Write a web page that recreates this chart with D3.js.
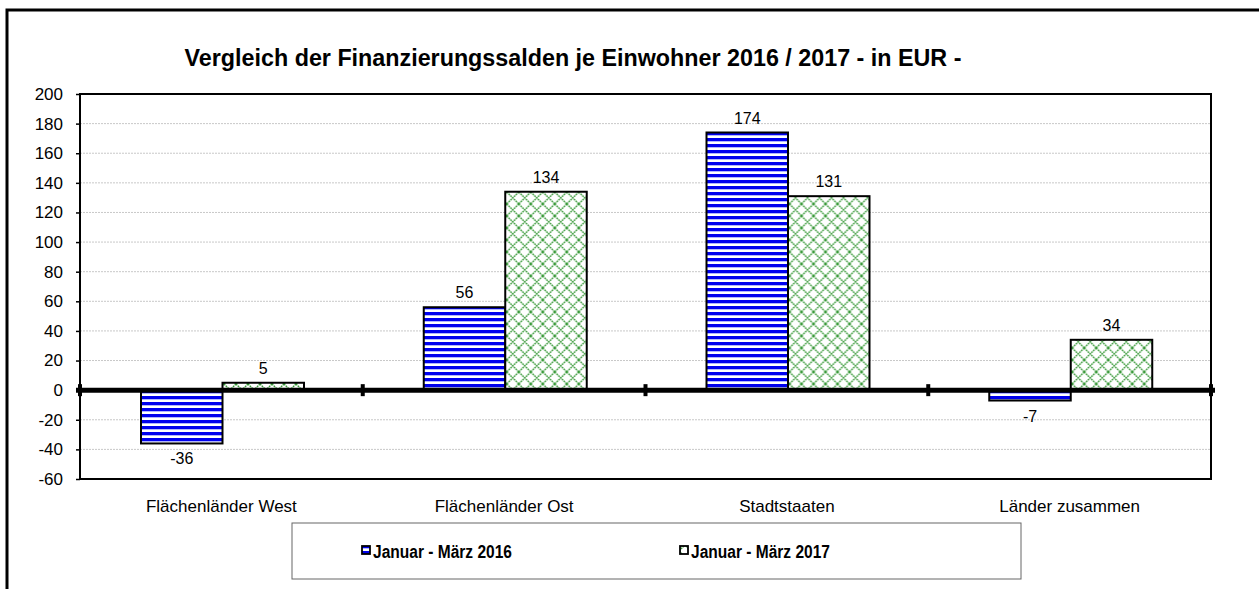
<!DOCTYPE html>
<html><head><meta charset="utf-8">
<script src="https://cdn.jsdelivr.net/npm/d3@7/dist/d3.min.js"></script>
<style>body{margin:0;background:#fff;}svg{display:block;font-family:"Liberation Sans",Arial,sans-serif;}</style>
</head><body>
<svg id="c" width="1259" height="589"></svg>
<script>
const title = "Vergleich der Finanzierungssalden je Einwohner 2016 / 2017 - in EUR -";
const categories = ["Flächenländer West", "Flächenländer Ost", "Stadtstaaten", "Länder zusammen"];
const seriesNames = ["Januar - März 2016", "Januar - März 2017"];
const values2016 = [-36, 56, 174, -7];
const values2017 = [5, 134, 131, 34];
const yTicks = [-60, -40, -20, 0, 20, 40, 60, 80, 100, 120, 140, 160, 180, 200];

const svg = d3.select("#c");
const defs = svg.append("defs");
// blue stripes
const p1 = defs.append("pattern").attr("id","stripes").attr("patternUnits","userSpaceOnUse").attr("width",8).attr("height",6);
p1.append("rect").attr("width",8).attr("height",6).attr("fill","#fff");
p1.append("rect").attr("y",0).attr("width",8).attr("height",3.2).attr("fill","#0000ee");
p1.append("rect").attr("y",3.2).attr("width",8).attr("height",0.8).attr("fill","#aab0ff");
// green crosshatch
const p2 = defs.append("pattern").attr("id","hatch").attr("patternUnits","userSpaceOnUse").attr("width",12).attr("height",12);
p2.append("rect").attr("width",12).attr("height",12).attr("fill","#fff");
p2.append("path").attr("d","M0,0 L12,12 M12,0 L0,12 M-6,6 L6,18 M6,-6 L18,6 M6,-6 L-6,6 M18,6 L6,18")
  .attr("stroke","#3a9a3a").attr("stroke-width",1.4).attr("stroke-dasharray","1.8,0.7").attr("fill","none");
const fills = ["url(#stripes)","url(#hatch)"];

// outer frame
svg.append("path").attr("d","M7,589 L7,10 L1259,10").attr("fill","none").attr("stroke","#000").attr("stroke-width",3);

svg.append("text").attr("x",573).attr("y",66).attr("text-anchor","middle")
  .attr("font-size",23.3).attr("font-weight","bold").text(title);

const L=80, R=1211, T=94, B=479;
const y = d3.scaleLinear().domain([-60,200]).range([B,T]);
const x0 = d3.scaleBand().domain(categories).range([L,R]).padding(0);
const x1 = d3.scaleBand().domain(seriesNames).range([61,224]).padding(0);

// gridlines
svg.append("g").selectAll("line").data(yTicks.filter(d=>d!==0&&d!==200&&d!==-60)).join("line")
  .attr("x1",L).attr("x2",R).attr("y1",d=>y(d)).attr("y2",d=>y(d))
  .attr("stroke","#c8c8c8").attr("stroke-width",1).attr("stroke-dasharray","2,1");

// y axis
const yAxis = svg.append("g").attr("transform",`translate(${L},0)`)
  .call(d3.axisLeft(y).tickValues(yTicks).tickSize(4).tickPadding(13).tickFormat(d=>String(d)));
yAxis.select(".domain").remove();
yAxis.selectAll("line").attr("stroke","#000").attr("stroke-width",1.5);
yAxis.selectAll("text").attr("font-size",17).attr("fill","#000").attr("font-family","Liberation Sans, Arial, sans-serif");

// plot frame
svg.append("rect").attr("x",L).attr("y",T).attr("width",R-L).attr("height",B-T)
  .attr("fill","none").attr("stroke","#000").attr("stroke-width",2);

const data = categories.map((c,i)=>({cat:c, vals:[values2016[i], values2017[i]]}));
const groups = svg.append("g").selectAll("g").data(data).join("g")
  .attr("transform",d=>`translate(${x0(d.cat)},0)`);
groups.selectAll("rect").data(d=>d.vals.map((v,j)=>({v, s:seriesNames[j], j}))).join("rect")
  .attr("x",d=>x1(d.s)).attr("width",x1.bandwidth())
  .attr("y",d=>y(Math.max(0,d.v))).attr("height",d=>Math.abs(y(d.v)-y(0)))
  .attr("fill",d=>fills[d.j]).attr("stroke","#000").attr("stroke-width",2);
groups.selectAll("text").data(d=>d.vals.map((v,j)=>({v, s:seriesNames[j], j}))).join("text")
  .attr("x",d=>x1(d.s)+x1.bandwidth()/2)
  .attr("y",d=>d.v>=0 ? y(d.v)-9 : y(d.v)+21)
  .attr("text-anchor","middle").attr("font-size",16).text(d=>String(d.v));

// zero line with ticks
svg.append("line").attr("x1",L-4).attr("x2",R+4).attr("y1",y(0)).attr("y2",y(0)).attr("stroke","#000").attr("stroke-width",5);
const xb = categories.map(c=>x0(c)).concat([R]);
svg.append("g").selectAll("line").data(xb).join("line")
  .attr("x1",d=>d).attr("x2",d=>d).attr("y1",y(0)-6).attr("y2",y(0)+6).attr("stroke","#000").attr("stroke-width",4);

// category labels
svg.append("g").selectAll("text").data(categories).join("text")
  .attr("x",d=>x0(d)+x0.bandwidth()/2).attr("y",512).attr("text-anchor","middle")
  .attr("font-size",17).text(d=>d);

// legend
svg.append("rect").attr("x",292).attr("y",523).attr("width",729).attr("height",56)
  .attr("fill","#fff").attr("stroke","#666").attr("stroke-width",1);
const legX = [361, 679];
const lg = svg.append("g").selectAll("g").data(seriesNames).join("g")
  .attr("transform",(d,i)=>`translate(${legX[i]},551)`);
lg.append("rect").attr("x",1).attr("y",-5).attr("width",8).attr("height",8)
  .attr("fill",(d,i)=>fills[i]).attr("stroke","#000").attr("stroke-width",1.8);
lg.append("text").attr("transform","translate(12,7) scale(0.84,1)").attr("font-size",18.5).attr("font-weight","bold")
  .text(d=>d);
</script>
</body></html>
